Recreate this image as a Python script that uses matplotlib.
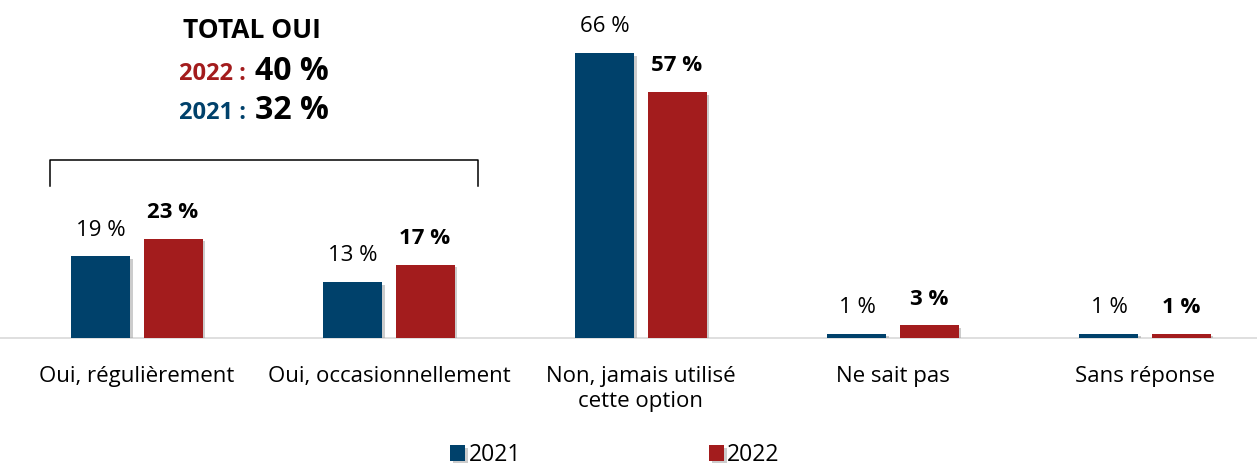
import matplotlib.pyplot as plt
import matplotlib.patheffects as pe
import numpy as np

plt.rcParams['font.family'] = ['Open Sans', 'DejaVu Sans']

categories = ["Oui, régulièrement", "Oui, occasionnellement",
              "Non, jamais utilisé\ncette option", "Ne sait pas", "Sans réponse"]
v2021 = [19, 13, 66, 1, 1]
v2022 = [23, 17, 57, 3, 1]
total_oui = {"2022": 40, "2021": 32}

blue = "#00416B"
red = "#A31C1D"

fig = plt.figure(figsize=(12.57, 4.70), dpi=100)
ax = fig.add_axes([0, 132 / 470, 1, 338 / 470])

x = np.arange(len(categories))
w = 0.234
off = 0.143
shadow = [pe.SimplePatchShadow(offset=(2, -2), shadow_rgbFace='#9a9a9a', alpha=0.5), pe.Normal()]
b1 = ax.bar(x - off, v2021, w, color=blue, label="2021", path_effects=shadow, zorder=3)
b2 = ax.bar(x + off, v2022, w, color=red, label="2022", path_effects=shadow, zorder=3)

for xi, v in zip(x, v2021):
    ax.text(xi - off, v + 6, f"{v} %", ha='center', va='center', fontsize=16)
for xi, v in zip(x, v2022):
    ax.text(xi + off, v + 6, f"{v} %", ha='center', va='center', fontsize=16,
            fontweight='bold')

ax.set_xlim(-137 / 252, 1120 / 252)
ax.set_ylim(0, 338 / 4.32)
for s in ['top', 'right', 'left']:
    ax.spines[s].set_visible(False)
ax.spines['bottom'].set_color('#d9d9d9')
ax.spines['bottom'].set_linewidth(1.2)
ax.set_yticks([])
ax.set_xticks(x)
ax.set_xticklabels(categories, fontsize=16, linespacing=1.25)
ax.tick_params(axis='x', length=0, pad=20)

# accolade au-dessus des deux "Oui"
bx0, bx1 = (50 - 137) / 252, (478 - 137) / 252
ytop, ybot = (338 - 160) / 4.32, (338 - 186) / 4.32
ax.plot([bx0, bx0, bx1, bx1], [ybot, ytop, ytop, ybot], color='black', lw=1.1,
        clip_on=False, solid_joinstyle='round')

fig.text(252 / 1257, 1 - 30 / 470, "TOTAL OUI", ha='center', va='center',
         fontsize=19, fontweight='bold')
for yy, yr, col in [(80, "2022", red), (119, "2021", blue)]:
    fig.text(252 / 1257, 1 - yy / 470, f"{yr} : ", ha='right', va='baseline',
             fontsize=17, fontweight='bold', color=col)
    fig.text(255 / 1257, 1 - yy / 470, f"{total_oui[yr]} %", ha='left', va='baseline',
             fontsize=23, fontweight='bold', color='black')

fig.legend(handles=[b1, b2], loc='center', bbox_to_anchor=(615 / 1257, 1 - 455 / 470),
           ncol=2, frameon=False, fontsize=16.5, handlelength=0.65, handleheight=0.65,
           handletextpad=0.15, columnspacing=8.2, borderpad=0.1)

fig.savefig("out.png", dpi=100)
